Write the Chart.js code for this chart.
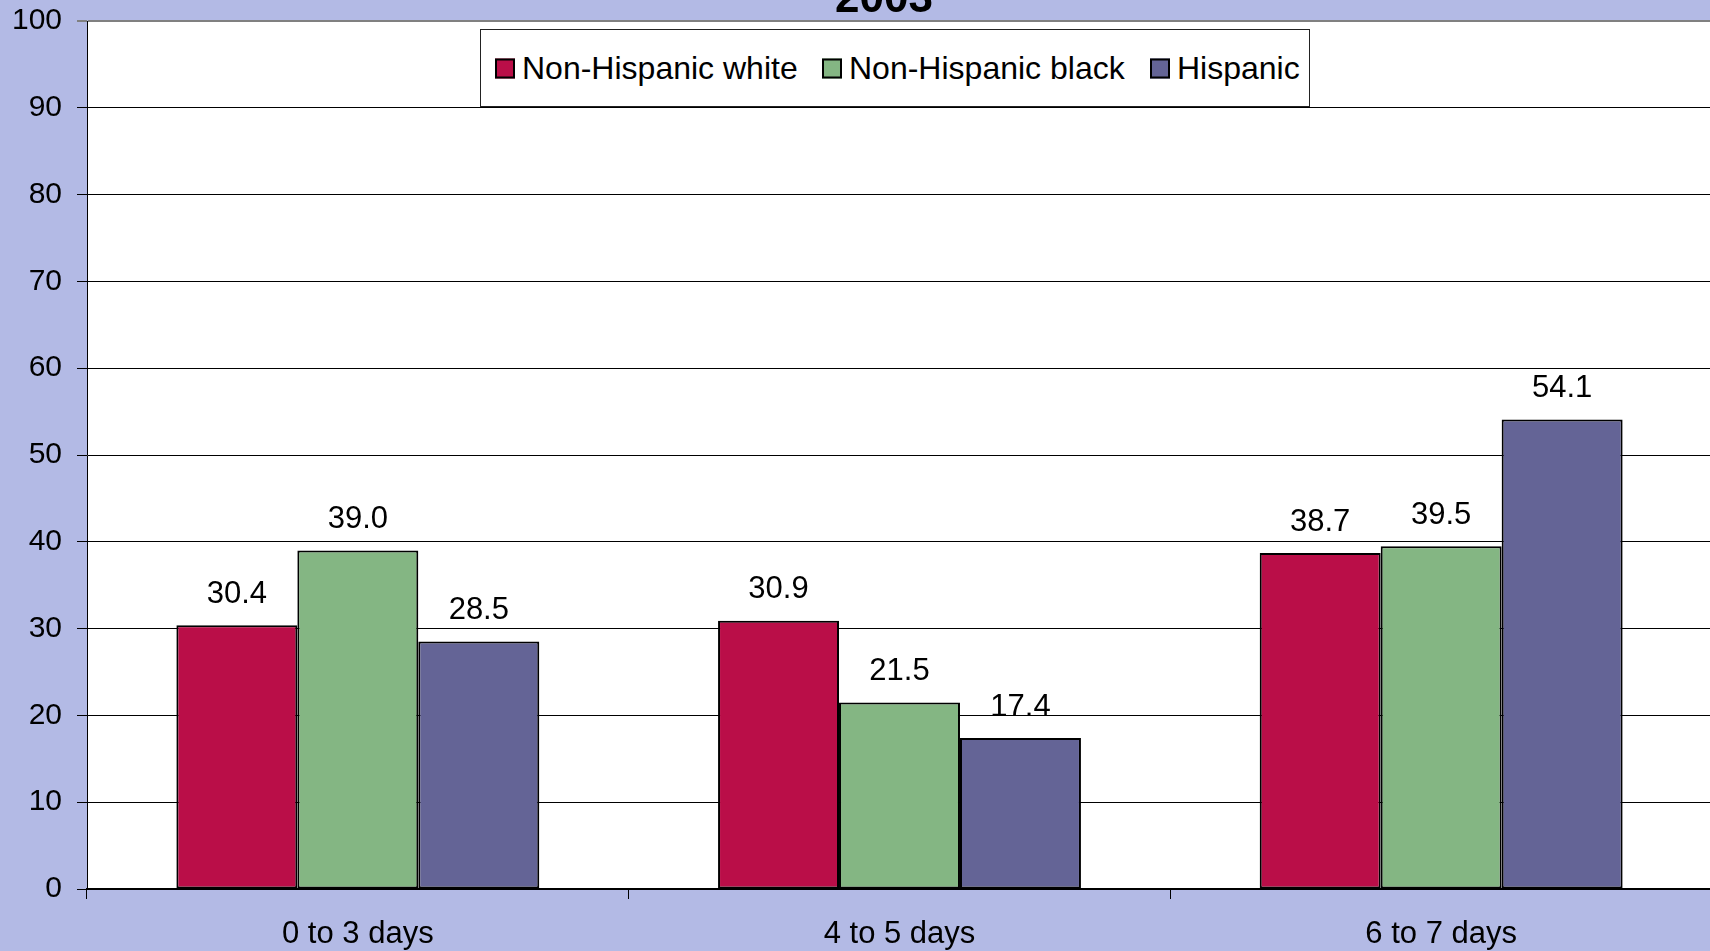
<!DOCTYPE html>
<html>
<head>
<meta charset="utf-8">
<script src="https://cdn.jsdelivr.net/npm/chart.js@4.4.1/dist/chart.umd.min.js"></script>
<style>
  html, body { margin: 0; padding: 0; overflow: hidden; background: #B3BAE5; }
  #wrap { position: relative; width: 1712px; height: 951px; }
  #legend {
    position: absolute; left: 480px; top: 29px; width: 830px; height: 78px;
    background: #fff; border: 1px solid #222; box-sizing: border-box;
    font-family: "Liberation Sans", Arial, sans-serif; font-size: 32px; color: #000;
    white-space: nowrap;
  }
  .item { position: absolute; top: 50%; transform: translateY(-50%); display: flex; align-items: center; }
  .sw { width: 16px; height: 16px; border: 2px solid #000; margin-right: 7px; }
</style>
</head>
<body>
<div id="wrap">
  <canvas id="c" width="1712" height="951"></canvas>
  <div id="legend"></div>
</div>
<script>
const categories = ['0 to 3 days', '4 to 5 days', '6 to 7 days'];
const seriesNames = ['Non-Hispanic white', 'Non-Hispanic black', 'Hispanic'];
const whiteValues = [30.4, 30.9, 38.7];
const blackValues = [39.0, 21.5, 39.5];
const hispanicValues = [28.5, 17.4, 54.1];
const seriesColors = ['#BA0E48', '#84B683', '#646496'];
const titleText = '2003';

const FONT = '"Liberation Sans", Arial, sans-serif';

// Legend entries (left offsets inside the bordered box)
const legendOffsets = [14, 341, 669];
const legendEl = document.getElementById('legend');
seriesNames.forEach((name, i) => {
  const it = document.createElement('div');
  it.className = 'item';
  it.style.left = legendOffsets[i] + 'px';
  it.innerHTML = '<div class="sw" style="background:' + seriesColors[i] + '"></div><span>' + name + '</span>';
  legendEl.appendChild(it);
});

// Values printed above each bar
const valueLabels = {
  id: 'valueLabels',
  afterDatasetsDraw(chart) {
    const ctx = chart.ctx;
    ctx.save();
    ctx.font = '31px ' + FONT;
    ctx.fillStyle = '#000';
    ctx.textAlign = 'center';
    ctx.textBaseline = 'middle';
    chart.data.datasets.forEach((ds, di) => {
      chart.getDatasetMeta(di).data.forEach((bar, i) => {
        ctx.fillText(ds.data[i].toFixed(1), bar.x, bar.y - 31);
      });
    });
    ctx.restore();
  }
};

// Plot area background and the partially visible title
const frame = {
  id: 'frame',
  beforeDraw(chart) {
    const { ctx, chartArea: a } = chart;
    ctx.save();
    ctx.fillStyle = '#fff';
    ctx.fillRect(a.left, a.top, a.right - a.left, a.bottom - a.top);
    ctx.restore();
  },
  afterDraw(chart) {
    const ctx = chart.ctx;
    ctx.save();
    ctx.font = 'bold 44px ' + FONT;
    ctx.fillStyle = '#000';
    ctx.textAlign = 'center';
    ctx.textBaseline = 'alphabetic';
    ctx.fillText(titleText, 884, 12);
    ctx.restore();
  }
};

new Chart(document.getElementById('c'), {
  type: 'bar',
  data: {
    labels: categories,
    datasets: [whiteValues, blackValues, hispanicValues].map((vals, i) => ({
      label: seriesNames[i],
      data: vals,
      backgroundColor: seriesColors[i],
      borderColor: '#000',
      borderWidth: 2,
      borderSkipped: false,
      categoryPercentage: 0.67,
      barPercentage: 1.0
    }))
  },
  options: {
    responsive: false,
    animation: false,
    layout: { padding: { top: 21, right: 0, left: 0, bottom: 0 } },
    plugins: { legend: { display: false }, title: { display: false }, tooltip: { enabled: false } },
    scales: {
      x: {
        grid: { offset: true, drawOnChartArea: false, drawTicks: true, tickLength: 10, color: '#000', lineWidth: 1 },
        border: { display: true, color: '#000', width: 2 },
        ticks: { font: { family: FONT, size: 31 }, color: '#000', padding: 17 },
        afterFit(s) { s.height = 62; s.paddingLeft = 0; s.paddingRight = 0; }
      },
      y: {
        min: 0, max: 100,
        ticks: { stepSize: 10, font: { family: FONT, size: 30 }, color: '#000', padding: 15 },
        grid: {
          color: ctx => (ctx.tick && ctx.tick.value === 100) ? '#808080' : '#000',
          lineWidth: ctx => (ctx.tick && ctx.tick.value === 100) ? 2 : 1,
          tickLength: 10
        },
        border: { display: true, color: '#000', width: 1 },
        afterFit(s) { s.width = 87; s.paddingTop = 0; s.paddingBottom = 0; }
      }
    }
  },
  plugins: [frame, valueLabels]
});
</script>
</body>
</html>
